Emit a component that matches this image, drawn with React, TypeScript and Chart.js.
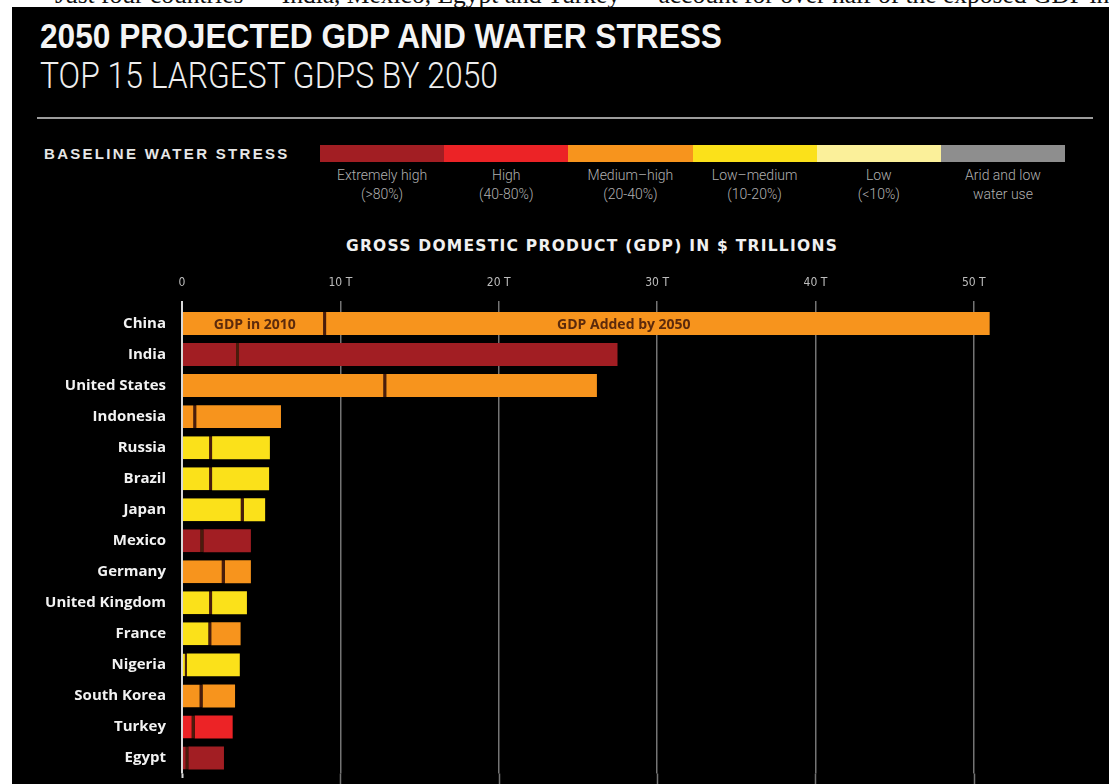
import React, { useEffect, useLayoutEffect, useRef } from 'react';
import { Chart, registerables } from 'chart.js';

Chart.register(...registerables);

// ---------- data ----------
const countries = [
  'China', 'India', 'United States', 'Indonesia', 'Russia', 'Brazil', 'Japan', 'Mexico',
  'Germany', 'United Kingdom', 'France', 'Nigeria', 'South Korea', 'Turkey', 'Egypt',
];
// GDP in 2010 ($ trillions)
const gdp2010 = [9.1, 3.6, 12.9, 0.9, 1.9, 1.9, 3.9, 1.35, 2.7, 1.9, 1.85, 0.3, 1.3, 0.8, 0.4];
// GDP added by 2050 ($ trillions)
const gdpAdded = [41.9, 23.9, 13.3, 5.35, 3.65, 3.6, 1.35, 3.0, 1.65, 2.2, 1.85, 3.35, 2.05, 2.4, 2.25];
// water-stress class index (into stressColors) for each segment
const stress2010 = [2, 0, 2, 2, 3, 3, 3, 0, 2, 3, 3, 3, 2, 1, 0];
const stressAdded = [2, 0, 2, 2, 3, 3, 3, 0, 2, 3, 2, 3, 2, 1, 0];

const stressLevels = ['Extremely high', 'High', 'Medium\u2013high', 'Low\u2013medium', 'Low', 'Arid and low'];
const stressRanges = ['(>80%)', '(40-80%)', '(20-40%)', '(10-20%)', '(<10%)', 'water use'];
const stressColors = ['#a21e23', '#ec2326', '#f7941d', '#fbe11a', '#fbf09a', '#8e8e8e'];

const tickValues = [0, 10, 20, 30, 40, 50];
const segmentLabels = ['GDP in 2010', 'GDP Added by 2050'];
const segmentLabelAt = [4.6, 27.9]; // x-values (T) where the labels are centred

const introText =
  'Just four countries \u2014 India, Mexico, Egypt and Turkey \u2014 account for over half of the exposed GDP in';

// ---------- styles ----------
const SANS = '"Liberation Sans", Arial, sans-serif';
const LIGHT = 'Roboto, "Liberation Sans", sans-serif';
const GRID = '#747474';
const ZERO = '#d9d9d9';
const DIVIDER = '#4a1c0c';

const extrasPlugin = {
  id: 'extras',
  beforeDatasetsDraw(chart: any) {
    const { ctx, chartArea, scales } = chart;
    const x = scales.x;
    ctx.save();
    tickValues.forEach((v) => {
      const px = Math.round(x.getPixelForValue(v)) + 0.5;
      ctx.strokeStyle = v === 0 ? ZERO : GRID;
      ctx.lineWidth = v === 0 ? 2 : 1.5;
      ctx.beginPath();
      ctx.moveTo(px, chartArea.bottom);
      ctx.lineTo(px, v === 0 ? chart.height - 6 : chart.height);
      ctx.stroke();
    });
    ctx.restore();
  },
  afterDatasetsDraw(chart: any) {
    const { ctx, scales } = chart;
    const meta = chart.getDatasetMeta(0);
    const y = meta.data[0].y;
    ctx.save();
    ctx.fillStyle = '#5c2a0c';
    ctx.font = 'bold 14px "Open Sans", sans-serif';
    ctx.textAlign = 'center';
    ctx.textBaseline = 'middle';
    segmentLabels.forEach((t, i) => {
      ctx.fillText(t, scales.x.getPixelForValue(segmentLabelAt[i]), y + 1);
    });
    ctx.restore();
  },
};

function GdpChart() {
  const ref = useRef<HTMLCanvasElement>(null);
  useEffect(() => {
    if (!ref.current) return;
    const chart = new Chart(ref.current, {
      type: 'bar',
      data: {
        labels: countries,
        datasets: [
          {
            label: segmentLabels[0],
            data: gdp2010,
            backgroundColor: stress2010.map((i) => stressColors[i]),
            borderColor: DIVIDER,
            borderWidth: { top: 0, right: 3, bottom: 0, left: 0 },
            borderSkipped: false,
            barPercentage: 0.74,
            categoryPercentage: 1,
          },
          {
            label: segmentLabels[1],
            data: gdpAdded,
            backgroundColor: stressAdded.map((i) => stressColors[i]),
            borderWidth: 0,
            barPercentage: 0.74,
            categoryPercentage: 1,
          },
        ],
      },
      options: {
        indexAxis: 'y',
        responsive: false,
        animation: false,
        layout: { padding: { top: 0, right: 56, bottom: 10.5, left: 0 } },
        plugins: { legend: { display: false }, tooltip: { enabled: false }, title: { display: false } },
        scales: {
          x: {
            type: 'linear',
            position: 'top',
            stacked: true,
            min: 0,
            max: 55,
            afterBuildTicks: (s: any) => {
              s.ticks = tickValues.map((v) => ({ value: v }));
            },
            afterFit: (s: any) => {
              s.height = 48;
            },
            border: { display: false },
            grid: {
              color: (c: any) => (c.tick && c.tick.value === 0 ? ZERO : GRID),
              lineWidth: (c: any) => (c.tick && c.tick.value === 0 ? 2 : 1.5),
              drawTicks: true,
              tickLength: 7,
            },
            ticks: {
              color: '#bdbdbd',
              padding: 11,
              font: { family: '"DejaVu Sans Condensed", "Liberation Sans", sans-serif', size: 12 },
              callback: (v: any) => (v === 0 ? '0' : `${v} T`),
            },
          },
          y: {
            type: 'category',
            stacked: true,
            offset: true,
            afterFit: (s: any) => {
              s.width = 164;
              s.paddingTop = 0;
              s.paddingBottom = 0;
            },
            border: { display: false },
            grid: { display: false, drawTicks: false },
            ticks: {
              color: '#f2f2f2',
              padding: 16,
              font: { family: '"Open Sans", sans-serif', size: 15, weight: 'bold' },
            },
          },
        },
      },
      plugins: [extrasPlugin],
    } as any);
    return () => chart.destroy();
  }, []);
  return <canvas ref={ref} width={1091} height={524} style={{ width: 1091, height: 524, display: 'block' }} />;
}

// text squeezed horizontally to a target width (condensed face imitation)
function FitText({ width, style, children }: { width: number; style: React.CSSProperties; children: React.ReactNode }) {
  const ref = useRef<HTMLSpanElement>(null);
  useLayoutEffect(() => {
    const fit = () => {
      const el = ref.current;
      if (!el) return;
      el.style.transform = 'none';
      const w = el.getBoundingClientRect().width;
      if (w > 0) el.style.transform = `scaleX(${width / w})`;
    };
    fit();
    if ((document as any).fonts && (document as any).fonts.ready) (document as any).fonts.ready.then(fit);
  }, [width]);
  return (
    <span ref={ref} style={{ display: 'inline-block', transformOrigin: '0 0', whiteSpace: 'nowrap', ...style }}>
      {children}
    </span>
  );
}

export default function App() {
  const abs = (o: React.CSSProperties): React.CSSProperties => ({ position: 'absolute', ...o });
  return (
    <div style={abs({ left: 0, top: 0, width: 1109, height: 784, background: '#fff', overflow: 'hidden' })}>
      <div
        style={abs({
          left: 55,
          top: -17.9,
          fontFamily: '"Liberation Serif", "Times New Roman", serif',
          fontSize: 25.5,
          lineHeight: '25.5px',
          color: '#111',
          whiteSpace: 'nowrap',
        })}
      >
        {introText}
      </div>
      <div style={abs({ left: 12, top: 7, width: 1097, height: 777, background: '#000', overflow: 'hidden' })} />
      <div style={abs({ left: 40, top: 17.5 })}>
        <FitText
          width={682}
          style={{ fontFamily: SANS, fontWeight: 'bold', fontSize: 35, lineHeight: '35px', color: '#f4f4f4' }}
        >
          2050 PROJECTED GDP AND WATER STRESS
        </FitText>
      </div>
      <div style={abs({ left: 40, top: 58 })}>
        <FitText
          width={458}
          style={{ fontFamily: LIGHT, fontWeight: 300, fontSize: 36, lineHeight: '36px', color: '#eeeeee' }}
        >
          TOP 15 LARGEST GDPS BY 2050
        </FitText>
      </div>
      <div style={abs({ left: 37, top: 117, width: 1056, height: 2, background: '#9c9c9c' })} />
      <div
        style={abs({
          left: 44,
          top: 146,
          fontFamily: SANS,
          fontWeight: 'bold',
          fontSize: 15,
          lineHeight: '15px',
          letterSpacing: 2.3,
          color: '#e6e6e6',
          whiteSpace: 'nowrap',
        })}
      >
        BASELINE WATER STRESS
      </div>
      <div style={abs({ left: 320, top: 145, width: 745, height: 17, display: 'flex' })}>
        {stressColors.map((c, i) => (
          <div key={i} style={{ flex: 1, background: c }} />
        ))}
      </div>
      <div style={abs({ left: 320, top: 165.5, width: 745, display: 'flex' })}>
        {stressLevels.map((l, i) => (
          <div
            key={i}
            style={{
              flex: 1,
              textAlign: 'center',
              fontFamily: LIGHT,
              fontWeight: 300,
              fontSize: 14,
              lineHeight: '19px',
              color: '#b0b0b0',
            }}
          >
            <div>{l}</div>
            <div>{stressRanges[i]}</div>
          </div>
        ))}
      </div>
      <div
        style={abs({
          left: 292,
          top: 238,
          width: 600,
          textAlign: 'center',
          fontFamily: '"DejaVu Sans", sans-serif',
          fontWeight: 'bold',
          fontSize: 15.5,
          lineHeight: '16px',
          letterSpacing: 1.25,
          color: '#f0f0f0',
          whiteSpace: 'nowrap',
        })}
      >
        GROSS DOMESTIC PRODUCT (GDP) IN $ TRILLIONS
      </div>
      <div style={abs({ left: 18, top: 260 })}>
        <GdpChart />
      </div>
    </div>
  );
}
